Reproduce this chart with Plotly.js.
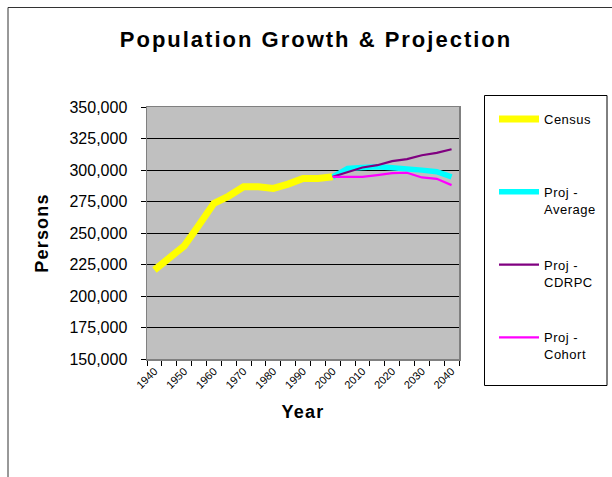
<!DOCTYPE html>
<html>
<head>
<meta charset="utf-8">
<script src="https://cdn.plot.ly/plotly-3.0.1.min.js"></script>
<style>
  html, body { margin: 0; padding: 0; background: #fff; }
  #chart { width: 612px; height: 477px; }
  .gtitle { letter-spacing: 2px; }
  .xtitle, .ytitle { letter-spacing: 1.2px; }
  .legendtext { letter-spacing: 0.5px; }
</style>
</head>
<body>
<div id="chart"></div>
<script>
// ---- data ----
const years = [1940, 1945, 1950, 1955, 1960, 1965, 1970, 1975, 1980, 1985, 1990, 1995, 2000,
               2005, 2010, 2015, 2020, 2025, 2030, 2035, 2040];
const censusYears = [1940, 1945, 1950, 1955, 1960, 1965, 1970, 1975, 1980, 1985, 1990, 1995, 2000];
const censusValues = [220700, 230000, 239700, 256300, 273500, 279300, 286700, 286700, 285400, 288800, 293300, 293300, 294600];
const projYears = [2000, 2005, 2010, 2015, 2020, 2025, 2030, 2035, 2040];
const projAverage = [294600, 301200, 302000, 302500, 301700, 301200, 299900, 298600, 294600];
const projCDRPC = [294600, 298000, 302000, 303800, 307000, 308600, 311700, 313600, 316500];
const projCohort = [294600, 294600, 294600, 296000, 297500, 297800, 294100, 293000, 288000];
const xTickVals = [1940, 1950, 1960, 1970, 1980, 1990, 2000, 2010, 2020, 2030, 2040];
const xTickText = ['1940', '1950', '1960', '1970', '1980', '1990', '2000', '2010', '2020', '2030', '2040'];
const seriesNames = ['Census', 'Proj -<br>Average', 'Proj -<br>CDRPC', 'Proj -<br>Cohort'];

// ---- geometry (pixels) ----
const W = 612, H = 477;
const plotL = 147, plotR = 459, plotT = 107, plotB = 359;
// paper spans the whole page (zero margins); plot area set by axis domains
const px = v => v / W;
const py = v => (H - v) / H;

const FONT = 'Arial, "Liberation Sans", sans-serif';

const traces = [
  { x: censusYears, y: censusValues, name: seriesNames[0] + '<br> ', line: { color: '#FFFF00', width: 7 } },
  { x: projYears, y: projAverage, name: seriesNames[1], line: { color: '#00FFFF', width: 5.5 } },
  { x: projYears, y: projCDRPC, name: seriesNames[2], line: { color: '#800080', width: 2.2 } },
  { x: projYears, y: projCohort, name: seriesNames[3], line: { color: '#FF00FF', width: 2.2 } }
].map((t, i) => Object.assign({ type: 'scatter', mode: 'lines', legendgroup: 'g' + i, hoverinfo: 'skip' }, t));

const layout = {
  width: W, height: H,
  margin: { l: 0, r: 0, t: 0, b: 0, pad: 0 },
  paper_bgcolor: '#FFFFFF',
  plot_bgcolor: '#C0C0C0',
  font: { family: FONT, color: '#000' },
  title: {
    text: '<b>Population Growth & Projection</b>',
    font: { family: FONT, size: 22, color: '#000' },
    x: 316 / W, xanchor: 'center', xref: 'container',
    y: 1 - 39 / H, yanchor: 'middle', yref: 'container'
  },
  xaxis: {
    domain: [px(plotL), px(plotR)],
    range: [1937.5, 2042.5],
    tickvals: xTickVals, ticktext: xTickText,
    tickangle: -45,
    ticks: '',
    tickfont: { family: FONT, size: 11, color: '#000' },
    showgrid: false, zeroline: false,
    showline: true, linecolor: '#808080', linewidth: 1.5, mirror: true,
    minor: { ticks: 'outside', tick0: 1937.5, dtick: 5, ticklen: 5, tickcolor: '#000', tickwidth: 1, showgrid: false },
    title: { text: '<b>Year</b>', font: { family: FONT, size: 18, color: '#000' }, standoff: 15 },
    automargin: false, fixedrange: true
  },
  yaxis: {
    domain: [py(plotB), py(plotT)],
    range: [150000, 350000],
    dtick: 25000, tick0: 150000,
    tickformat: ',d',
    ticks: 'outside', ticklen: 5, tickcolor: '#000', tickwidth: 1,
    ticklabelstandoff: 10,
    tickfont: { family: FONT, size: 16, color: '#000' },
    showgrid: true, gridcolor: '#000', gridwidth: 1,
    zeroline: false,
    showline: true, linecolor: '#808080', linewidth: 1.5, mirror: true,
    title: { text: '<b>Persons</b>', font: { family: FONT, size: 18, color: '#000' }, standoff: 16 },
    automargin: false, fixedrange: true
  },
  showlegend: true,
  legend: {
    x: px(494), y: py(104), xanchor: 'left', yanchor: 'top',
    bgcolor: 'rgba(0,0,0,0)', borderwidth: 0,
    font: { family: FONT, size: 13, color: '#000' },
    valign: 'top',
    tracegroupgap: 36,
    itemwidth: 40,
    maxheight: 420,
    traceorder: 'grouped'
  },
  shapes: [
    // outer chart frame
    { type: 'rect', xref: 'paper', yref: 'paper', x0: px(8), x1: px(640), y0: py(7.5), y1: py(500),
      line: { color: '#333', width: 1 }, fillcolor: 'rgba(0,0,0,0)', layer: 'below' },
    // legend frame
    { type: 'rect', xref: 'paper', yref: 'paper', x0: px(484.5), x1: px(607), y0: py(95.5), y1: py(385.5),
      line: { color: '#000', width: 1 }, fillcolor: 'rgba(0,0,0,0)' }
  ]
};

Plotly.newPlot('chart', traces, layout, { displayModeBar: false, staticPlot: true });
</script>
</body>
</html>
